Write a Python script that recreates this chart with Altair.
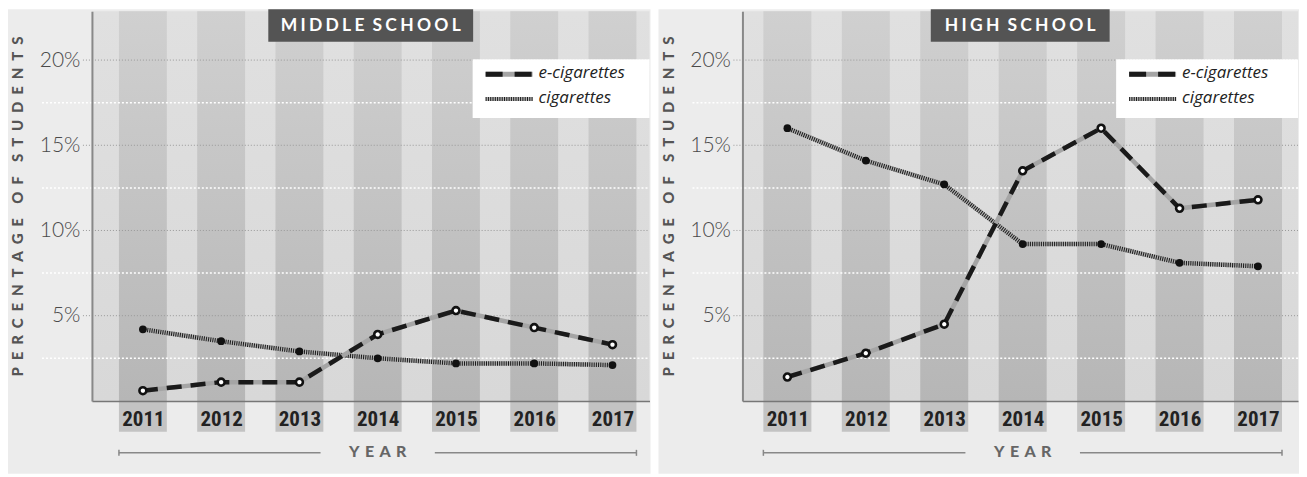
import altair as alt
import pandas as pd

# ---------------- data ----------------
years = [2011, 2012, 2013, 2014, 2015, 2016, 2017]
ms_ecig = [0.6, 1.1, 1.1, 3.9, 5.3, 4.3, 3.3]
ms_cig = [4.2, 3.5, 2.9, 2.5, 2.2, 2.2, 2.1]
hs_ecig = [1.4, 2.8, 4.5, 13.5, 16.0, 11.3, 11.8]
hs_cig = [16.0, 14.1, 12.7, 9.2, 9.2, 8.1, 7.9]
major_ticks = [5, 10, 15, 20]
minor_grid = [2.5, 7.5, 12.5, 17.5]
series_names = ["e-cigarettes", "cigarettes"]
panel_titles = ["MIDDLE SCHOOL", "HIGH SCHOOL"]
y_title = "PERCENTAGE OF STUDENTS"
x_title = "YEAR"

H = 390
YMAX = 22.87
HALF = 0.306
GAP = 0.73

BOLD_FONT = "Lato"
YEAR_FONT = "Liberation Sans Narrow, Roboto Condensed, DejaVu Sans Condensed, sans-serif"


def spaced(text, gap="\u2004", word_gap="\u2002\u2004"):
    return word_gap.join(gap.join(list(w)) for w in text.split(" "))


def grad(top, bottom):
    return alt.Gradient(
        gradient="linear",
        stops=[alt.GradientStop(color=top, offset=0), alt.GradientStop(color=bottom, offset=1)],
        x1=0, x2=0, y1=0, y2=1,
    )


X_AXIS = alt.Axis(values=years, format="d", title=None, grid=False, ticks=False, tickSize=0,
                  labelFont=YEAR_FONT, labelFontWeight="bold", labelFontSize=21,
                  labelColor="#222222", labelBaseline="middle", labelPadding=19,
                  domainColor="#777777", domainWidth=1.5, zindex=1)
Y_AXIS = alt.Axis(values=major_ticks, labelExpr="datum.value + '%'", grid=False, ticks=False,
                  tickSize=0, labelFont="Lato", labelFontWeight=300, labelFontSize=21,
                  labelColor="#4a4a4a", labelPadding=12, domainColor="#888888", domainWidth=2,
                  title=spaced(y_title, gap="\u2004\u200a\u200a",
                               word_gap="\u2002\u2004\u200a\u200a"),
                  titleFont=BOLD_FONT, titleFontWeight=900,
                  titleFontSize=15, titleColor="#555555", titleAngle=270, titleX=-74,
                  titleY=H / 2, titleAlign="center", titleBaseline="middle", zindex=1)


def panel(title, ecig, cig, width, xdom, title_w, legend_left):
    df = pd.DataFrame({"year": years, "ecig": ecig, "cig": cig})
    df["x0"] = df["year"] - HALF
    df["x1"] = df["year"] + HALF
    one = pd.DataFrame({"k": [0]})
    xs = alt.Scale(domain=xdom, nice=False, zero=False)
    ys = alt.Scale(domain=[0, YMAX], nice=False, zero=False)
    mid = (min(years) + max(years)) / 2
    seg = pd.DataFrame({"s": [min(years) - HALF, mid + GAP], "e": [mid - GAP, max(years) + HALF]})
    ends = pd.DataFrame({"v": [min(years) - HALF, max(years) + HALF]})
    minor = pd.DataFrame({"v": minor_grid})
    major = pd.DataFrame({"v": major_ticks})
    mid_df = pd.DataFrame({"v": [mid], "t": [spaced(x_title)]})

    def X(f):
        return alt.X(f, scale=xs, axis=X_AXIS)

    def Y(f):
        return alt.Y(f, scale=ys, axis=Y_AXIS)

    bg = alt.Chart(one).mark_rect(color="#ececec").encode(
        x=alt.value(-84), x2=alt.value(width + 1), y=alt.value(-2), y2=alt.value(463))
    plotbg = alt.Chart(one).mark_rect(fill=grad("#e0e0e0", "#d8d8d8")).encode(
        x=alt.value(0), x2=alt.value(width), y=alt.value(0), y2=alt.value(H))
    stripes = alt.Chart(df).mark_rect(fill=grad("#d0d0d0", "#b6b6b6")).encode(
        x=X("x0:Q"), x2="x1:Q", y=alt.value(0), y2=alt.value(H))
    boxes = alt.Chart(df).mark_rect(color="#c3c3c3").encode(
        x=X("x0:Q"), x2="x1:Q", y=alt.value(H), y2=alt.value(H + 31))
    g_minor = alt.Chart(minor).mark_rule(color="white", strokeDash=[2, 2], strokeWidth=1.5).encode(
        y=Y("v:Q"), x=alt.value(-50), x2=alt.value(width))
    g_major = alt.Chart(major).mark_rule(color="#999999", strokeDash=[1, 2], strokeWidth=1).encode(
        y=Y("v:Q"), x=alt.value(-9), x2=alt.value(width))

    tbox = alt.Chart(one).mark_rect(color="#545454").encode(
        x=alt.value(width / 2 - title_w / 2), x2=alt.value(width / 2 + title_w / 2),
        y=alt.value(-2), y2=alt.value(30.5))
    ttext = alt.Chart(one).mark_text(
        text=spaced(title, gap="\u2009\u200a", word_gap="\u2004\u2009"), color="white",
        font=BOLD_FONT, fontWeight="bold", fontSize=17.5, align="center",
        baseline="middle").encode(x=alt.value(width / 2), y=alt.value(15))

    lbox = alt.Chart(one).mark_rect(color="white").encode(
        x=alt.value(legend_left), x2=alt.value(width), y=alt.value(48), y2=alt.value(107))
    sx0, sx1 = legend_left + 13, legend_left + 60
    l1a = alt.Chart(one).mark_rule(color="#a5a5a5", strokeWidth=5).encode(
        x=alt.value(sx0), x2=alt.value(sx1), y=alt.value(63))
    l1b = alt.Chart(one).mark_rule(color="#1a1a1a", strokeWidth=5, strokeDash=[17, 12]).encode(
        x=alt.value(sx0), x2=alt.value(sx1), y=alt.value(63))
    l2a = alt.Chart(one).mark_rule(color="#b5b5b5", strokeWidth=4).encode(
        x=alt.value(sx0), x2=alt.value(sx1), y=alt.value(88))
    l2b = alt.Chart(one).mark_rule(color="#1a1a1a", strokeWidth=4, strokeDash=[1, 1.3]).encode(
        x=alt.value(sx0), x2=alt.value(sx1), y=alt.value(88))
    lt1 = alt.Chart(one).mark_text(text=series_names[0], font="Open Sans", fontStyle="italic",
                                   fontSize=17, color="#222222", align="left", baseline="middle").encode(
        x=alt.value(legend_left + 66), y=alt.value(62))
    lt2 = alt.Chart(one).mark_text(text=series_names[1], font="Open Sans", fontStyle="italic",
                                   fontSize=17, color="#222222", align="left", baseline="middle").encode(
        x=alt.value(legend_left + 66), y=alt.value(87))

    c_gray = alt.Chart(df).mark_line(color="#b0b0b0", strokeWidth=4.5).encode(
        x=X("year:Q"), y=Y("cig:Q"))
    c_black = alt.Chart(df).mark_line(color="#1a1a1a", strokeWidth=4.5, strokeDash=[1, 1.2]).encode(
        x=X("year:Q"), y=Y("cig:Q"))
    c_pts = alt.Chart(df).mark_circle(color="#111111", size=60, opacity=1).encode(
        x=X("year:Q"), y=Y("cig:Q"))
    e_gray = alt.Chart(df).mark_line(color="#a5a5a5", strokeWidth=4.5).encode(
        x=X("year:Q"), y=Y("ecig:Q"))
    e_black = alt.Chart(df).mark_line(color="#1a1a1a", strokeWidth=4.5, strokeDash=[15, 9]).encode(
        x=X("year:Q"), y=Y("ecig:Q"))
    e_pts = alt.Chart(df).mark_circle(fill="white", stroke="#111111", strokeWidth=2.6, size=48,
                                      opacity=1).encode(
        x=X("year:Q"), y=Y("ecig:Q"))

    yr_lines = alt.Chart(seg).mark_rule(color="#888888", strokeWidth=1.5).encode(
        x=X("s:Q"), x2="e:Q", y=alt.value(442))
    yr_ends = alt.Chart(ends).mark_rule(color="#888888", strokeWidth=1.5).encode(
        x=X("v:Q"), y=alt.value(439), y2=alt.value(445))
    yr_text = alt.Chart(mid_df).mark_text(font=BOLD_FONT, fontWeight=900, fontSize=16,
                                         color="#666666", align="center", baseline="middle").encode(
        x=X("v:Q"), y=alt.value(441), text="t:N")

    return alt.layer(
        bg, plotbg, stripes, boxes, g_minor, g_major, tbox, ttext,
        lbox, l1a, l1b, l2a, l2b, lt1, lt2,
        c_gray, c_black, c_pts, e_gray, e_black, e_pts,
        yr_lines, yr_ends, yr_text,
    ).properties(width=width, height=H)


left = panel(panel_titles[0], ms_ecig, ms_cig, 558, [2010.349, 2017.473], 205, 381)
right = panel(panel_titles[1], hs_ecig, hs_cig, 556, [2010.427, 2017.510], 179, 374)

chart = alt.hconcat(left, right, spacing=8).properties(
    padding={"left": 0, "top": 1, "right": 0, "bottom": 0}
).configure(background="white").configure_view(strokeWidth=0)

chart.save("out.html", embed_options={"renderer": "svg", "actions": False})
